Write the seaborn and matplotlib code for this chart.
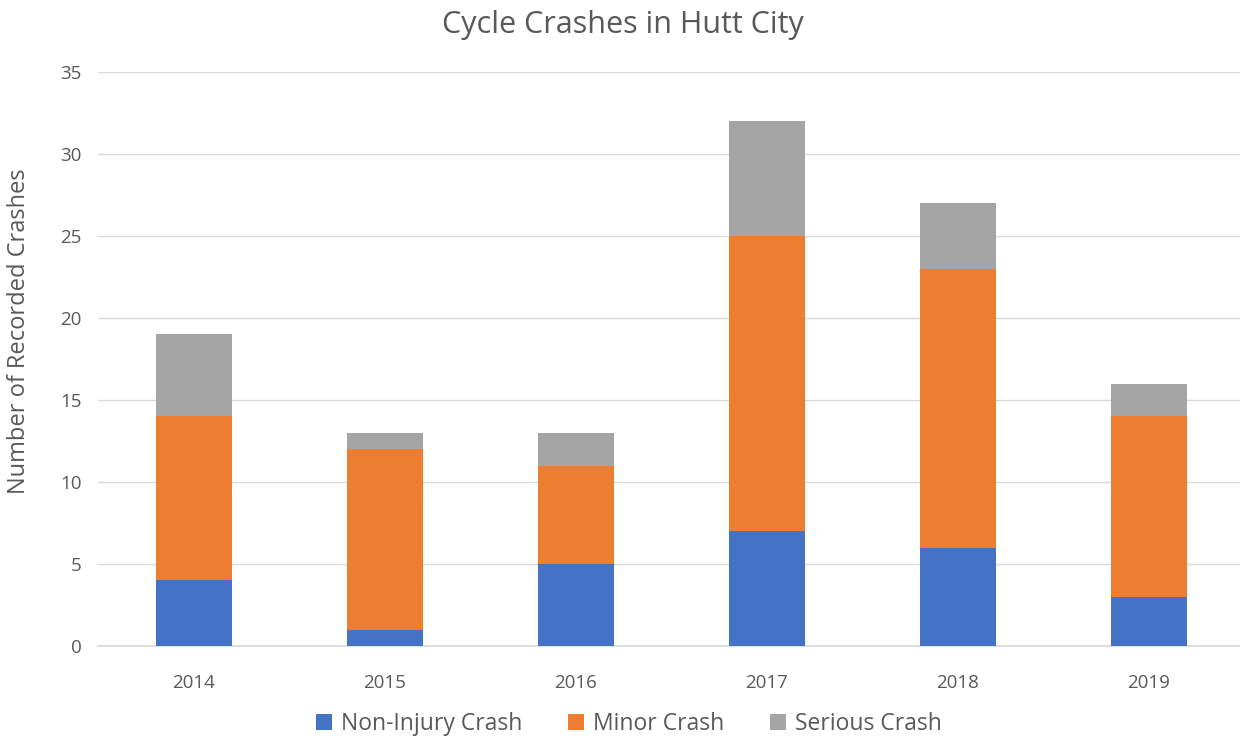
import pandas as pd
import matplotlib.pyplot as plt
import seaborn as sns

years = ["2014", "2015", "2016", "2017", "2018", "2019"]
non_injury = [4, 1, 5, 7, 6, 3]
minor = [10, 11, 6, 18, 17, 11]
serious = [5, 1, 2, 7, 4, 2]

sns.set_theme(style="white")
plt.rcParams["font.family"] = ["Open Sans", "DejaVu Sans"]
text_color = "#595959"

df = pd.DataFrame({"year": years, "non_injury": non_injury,
                   "minor": minor, "serious": serious})
df["minor_bottom"] = df["non_injury"]
df["serious_bottom"] = df["non_injury"] + df["minor"]

fig = plt.figure(figsize=(12.4, 7.38), dpi=100)
ax = fig.add_axes([0.0794, 0.1247, 0.924, 0.7777])

# stacked bars: each layer sits on the cumulative total below it
sns.barplot(data=df, x="year", y="non_injury", color="#4472C4", width=0.4,
            saturation=1, linewidth=0, label="Non-Injury Crash", ax=ax, zorder=3)
sns.barplot(data=df, x="year", y="minor", bottom=df["minor_bottom"], color="#ED7D31",
            width=0.4, saturation=1, linewidth=0, label="Minor Crash", ax=ax, zorder=3)
sns.barplot(data=df, x="year", y="serious", bottom=df["serious_bottom"], color="#A5A5A5",
            width=0.4, saturation=1, linewidth=0, label="Serious Crash", ax=ax, zorder=3)

ax.set_ylim(0, 35)
ax.set_yticks(range(0, 36, 5))
ax.yaxis.grid(True, color="#D9D9D9", linewidth=1, zorder=0)
ax.set_axisbelow(True)
for s in ["top", "right", "left"]:
    ax.spines[s].set_visible(False)
ax.spines["bottom"].set_color("#D9D9D9")
ax.tick_params(axis="y", length=0, labelsize=13.5, colors=text_color, pad=12)
ax.tick_params(axis="x", length=0, labelsize=13.5, colors=text_color, pad=20)

ax.set_xlabel("")
ax.set_ylabel("Number of Recorded Crashes", fontsize=17, color=text_color)
ax.yaxis.set_label_coords(-0.0585, 0.549)
fig.text(0.502, 0.966, "Cycle Crashes in Hutt City", fontsize=22, color=text_color,
         ha="center", va="center")

ax.legend(loc="center", bbox_to_anchor=(0.463, -0.136), ncol=3, frameon=False,
          fontsize=16.5, labelcolor=text_color, handlelength=0.7, handleheight=0.7,
          columnspacing=2.0, handletextpad=0.4)

fig.savefig("out.png", dpi=100)
